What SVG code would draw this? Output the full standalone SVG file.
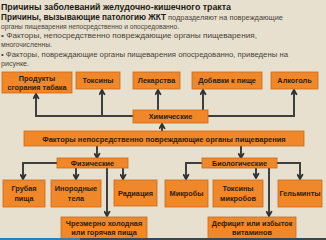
<svg xmlns="http://www.w3.org/2000/svg" width="326" height="240" viewBox="0 0 326 240">
<defs>
<style>
.hd{font-family:"Liberation Sans",Arial,sans-serif;font-size:8px;fill:#4a4338}
.hb{font-family:"Liberation Sans",Arial,sans-serif;font-size:8.5px;font-weight:bold;fill:#1e1a14}
.box{fill:#f0882a;stroke:#c96a18;stroke-width:0.8}
.bt{font-family:"Liberation Sans",Arial,sans-serif;font-size:7.3px;font-weight:bold;fill:#2e1c0c;text-anchor:middle}
.cn{fill:none;stroke:#3f3f3f;stroke-width:2}
</style>
<marker id="ah" viewBox="0 0 10 10" refX="8.5" refY="5" markerWidth="7" markerHeight="7" markerUnits="userSpaceOnUse" orient="auto">
<path d="M1.5,1 L8.5,5 L1.5,9" fill="none" stroke="#2e2e2e" stroke-width="2.6"/>
</marker>
</defs>
<rect x="0" y="0" width="326" height="240" fill="#e7e0cf"/>
<g id="header">
<text class="hb" x="1" y="10" textLength="230" lengthAdjust="spacingAndGlyphs">Причины заболеваний желудочно-кишечного тракта</text>
<text class="hb" x="1" y="19.5" textLength="165" lengthAdjust="spacingAndGlyphs">Причины, вызывающие патологию ЖКТ</text>
<text class="hd" x="168" y="19.5" textLength="115" lengthAdjust="spacingAndGlyphs">подразделяют на повреждающие</text>
<text class="hd" x="1" y="28.5" textLength="178" lengthAdjust="spacingAndGlyphs">органы пищеварения непосредственно и опосредованно.</text>
<text class="hd" x="1" y="38" textLength="256" lengthAdjust="spacingAndGlyphs">• Факторы, непосредственно повреждающие органы пищеварения,</text>
<text class="hd" x="1" y="47" textLength="51" lengthAdjust="spacingAndGlyphs">многочисленны.</text>
<text class="hd" x="1" y="57" textLength="287" lengthAdjust="spacingAndGlyphs">• Факторы, повреждающие органы пищеварения опосредованно, приведены на</text>
<text class="hd" x="1" y="66" textLength="28" lengthAdjust="spacingAndGlyphs">рисунке.</text>
</g>
<g id="connectors">
<path class="cn" d="M133,116 H36 V94" marker-end="url(#ah)"/>
<path class="cn" d="M102,116 V90" marker-end="url(#ah)"/>
<path class="cn" d="M158,110 V90" marker-end="url(#ah)"/>
<path class="cn" d="M203,110 V90" marker-end="url(#ah)"/>
<path class="cn" d="M208,116 H294 V90" marker-end="url(#ah)"/>
<path class="cn" d="M162,131 V124" marker-end="url(#ah)"/>
<path class="cn" d="M97,146 V158" marker-end="url(#ah)"/>
<path class="cn" d="M241,146 V158" marker-end="url(#ah)"/>
<path class="cn" d="M57,163 H23 V179" marker-end="url(#ah)"/>
<path class="cn" d="M76,168 V179" marker-end="url(#ah)"/>
<path class="cn" d="M123,168 V179" marker-end="url(#ah)"/>
<path class="cn" d="M107,168 V216" marker-end="url(#ah)"/>
<path class="cn" d="M202,163 H186 V179" marker-end="url(#ah)"/>
<path class="cn" d="M256,168 V178" marker-end="url(#ah)"/>
<path class="cn" d="M277,163 H300 V179" marker-end="url(#ah)"/>
<path class="cn" d="M269,168 V216" marker-end="url(#ah)"/>
</g>
<g id="n-tabak"><rect class="box" x="2" y="72" width="70" height="21"/><text class="bt" x="37" y="80.5">Продукты</text><text class="bt" x="37" y="89.5">сгорания табака</text></g>
<g id="n-toksiny"><rect class="box" x="76" y="72" width="44" height="17"/><text class="bt" x="98" y="83">Токсины</text></g>
<g id="n-lekarstva"><rect class="box" x="133" y="72" width="47" height="17"/><text class="bt" x="156.5" y="83">Лекарства</text></g>
<g id="n-dobavki"><rect class="box" x="192" y="72" width="70" height="17"/><text class="bt" x="227" y="83">Добавки к пище</text></g>
<g id="n-alkogol"><rect class="box" x="271" y="72" width="47" height="17"/><text class="bt" x="294.5" y="83">Алкоголь</text></g>
<g id="n-himicheskie"><rect class="box" x="133" y="110" width="75" height="13"/><text class="bt" x="170.5" y="119">Химические</text></g>
<g id="n-faktory"><rect class="box" x="24" y="131" width="280" height="15"/><text class="bt" x="164" y="141.5" style="font-size:7.5px">Факторы непосредственно повреждающие органы пищеварения</text></g>
<g id="n-fizicheskie"><rect class="box" x="57" y="158" width="71" height="10"/><text class="bt" x="92.5" y="165.8">Физические</text></g>
<g id="n-biologicheskie"><rect class="box" x="202" y="158" width="75" height="10"/><text class="bt" x="239.5" y="165.8">Биологические</text></g>
<g id="n-grubaya"><rect class="box" x="3" y="180" width="42" height="27"/><text class="bt" x="24" y="191">Грубая</text><text class="bt" x="24" y="200.5">пища</text></g>
<g id="n-inorodnye"><rect class="box" x="51" y="180" width="50" height="27"/><text class="bt" x="76" y="191">Инородные</text><text class="bt" x="76" y="200.5">тела</text></g>
<g id="n-radiaciya"><rect class="box" x="114" y="180" width="43" height="26"/><text class="bt" x="135.5" y="196">Радиация</text></g>
<g id="n-mikroby"><rect class="box" x="165" y="180" width="43" height="27"/><text class="bt" x="186.5" y="196">Микробы</text></g>
<g id="n-toksiny-mikrobov"><rect class="box" x="213" y="180" width="50" height="27"/><text class="bt" x="238" y="191">Токсины</text><text class="bt" x="238" y="200.5">микробов</text></g>
<g id="n-gelminty"><rect class="box" x="278" y="180" width="44" height="27"/><text class="bt" x="300" y="196">Гельминты</text></g>
<g id="n-chrezmerno"><rect class="box" x="61" y="217" width="86" height="24"/><text class="bt" x="104" y="226">Чрезмерно холодная</text><text class="bt" x="104" y="235">или горячая пища</text></g>
<g id="n-deficit"><rect class="box" x="208" y="217" width="88" height="24"/><text class="bt" x="252" y="226">Дефицит или избыток</text><text class="bt" x="252" y="235">витаминов</text></g>
<rect x="0" y="238" width="326" height="2" fill="#3c4652"/>
<rect x="0" y="238" width="80" height="2" fill="#2f7fb5"/>
</svg>
